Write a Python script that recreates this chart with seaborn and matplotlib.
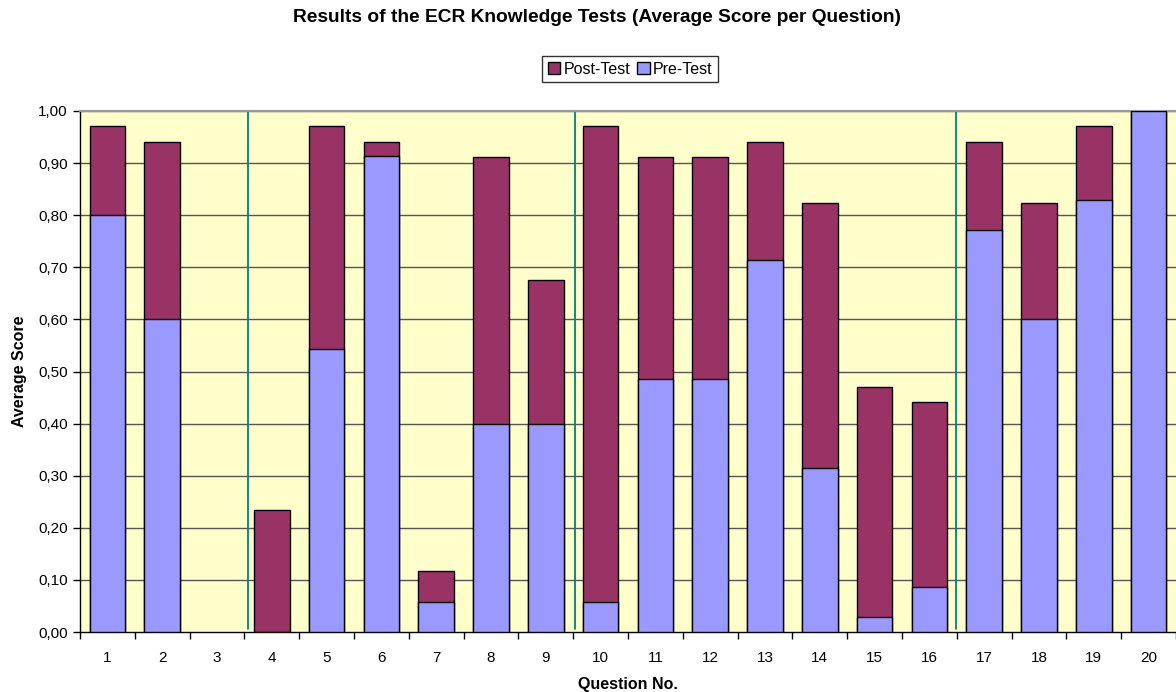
import matplotlib
matplotlib.use("Agg")
import matplotlib.pyplot as plt
import seaborn as sns
import pandas as pd
from matplotlib.patches import Patch
from matplotlib.ticker import FuncFormatter, FixedLocator

questions = [str(i) for i in range(1, 21)]
post_test = [0.971, 0.941, 0.0, 0.235, 0.971, 0.941, 0.118, 0.912, 0.676, 0.971,
             0.912, 0.912, 0.941, 0.824, 0.471, 0.441, 0.941, 0.824, 0.971, 1.0]
pre_test = [0.800, 0.600, 0.0, 0.0, 0.543, 0.914, 0.057, 0.400, 0.400, 0.057,
            0.486, 0.486, 0.714, 0.314, 0.029, 0.086, 0.771, 0.600, 0.829, 1.0]
yticks = [0.0, 0.1, 0.2, 0.3, 0.4, 0.5, 0.6, 0.7, 0.8, 0.9, 1.0]
separators = [2.56, 8.53, 15.49]

POST_C = "#993366"
PRE_C = "#9999FF"
BG = "#FFFFCC"

sns.set_theme(style="white")
plt.rcParams['font.family'] = ['Liberation Sans', 'DejaVu Sans']
plt.rcParams['text.color'] = 'black'
plt.rcParams['axes.labelcolor'] = 'black'
plt.rcParams['xtick.color'] = 'black'
plt.rcParams['ytick.color'] = 'black'

df = pd.DataFrame({"Question": questions, "Post": post_test, "Pre": pre_test})

fig = plt.figure(figsize=(11.76, 6.92), dpi=100)
ax = fig.add_axes([80/1176, 60/692, 1 - 80/1176, (632-111)/692])
ax.set_facecolor(BG)

for y in yticks[1:]:
    ax.axhline(y, color="#555555", lw=1, zorder=0.5)

sns.barplot(data=df, x="Question", y="Post", color=POST_C, width=0.65,
            edgecolor="black", linewidth=1, saturation=1, ax=ax, zorder=2)
sns.barplot(data=df, x="Question", y="Pre", color=PRE_C, width=0.65,
            edgecolor="black", linewidth=1, saturation=1, ax=ax, zorder=3)

for p in ax.patches:
    if p.get_height() == 0:
        p.set_visible(False)

for s in separators:
    ax.plot([s, s], [0.005, 1.0], color="#008080", lw=1.3, zorder=1)

ax.set_xlim(-0.5, 19.5)
ax.set_ylim(0, 1.0)
ax.set_yticks(yticks)
ax.yaxis.set_major_formatter(FuncFormatter(lambda v, p: f"{v:.2f}".replace(".", ",")))
ax.tick_params(axis="y", which="major", length=5, width=1, color="black",
               direction="out", left=True, labelsize=11, pad=4)
ax.tick_params(axis="x", which="major", length=0, labelsize=11, pad=14)
ax.xaxis.set_minor_locator(FixedLocator([i - 0.5 for i in range(21)]))
ax.tick_params(axis="x", which="minor", length=5, width=1, color="black",
               direction="out", bottom=True)

for side in ["left", "bottom"]:
    ax.spines[side].set_color("black")
    ax.spines[side].set_linewidth(1)
ax.spines["top"].set_color("#999999")
ax.spines["top"].set_linewidth(1.5)
ax.spines["right"].set_visible(False)

ax.set_xlabel("Question No.", fontsize=11.5, fontweight="bold", labelpad=8)
ax.set_ylabel("Average Score", fontsize=11.5, fontweight="bold", labelpad=8)

fig.suptitle("Results of the ECR Knowledge Tests (Average Score per Question)",
             fontsize=13.8, fontweight="bold", x=597/1176, y=1 - 17/692, va="center")

handles = [Patch(facecolor=POST_C, edgecolor="black", label="Post-Test"),
           Patch(facecolor=PRE_C, edgecolor="black", label="Pre-Test")]
leg = fig.legend(handles=handles, loc="center", bbox_to_anchor=(630/1176, 1 - 69/692),
                 ncol=2, frameon=True, fancybox=False, fontsize=11.5,
                 handlelength=0.8, handleheight=0.8, handletextpad=0.2,
                 columnspacing=0.4, borderpad=0.35, edgecolor="black")
leg.get_frame().set_linewidth(1)

fig.savefig("out.png", dpi=100, facecolor="white")
